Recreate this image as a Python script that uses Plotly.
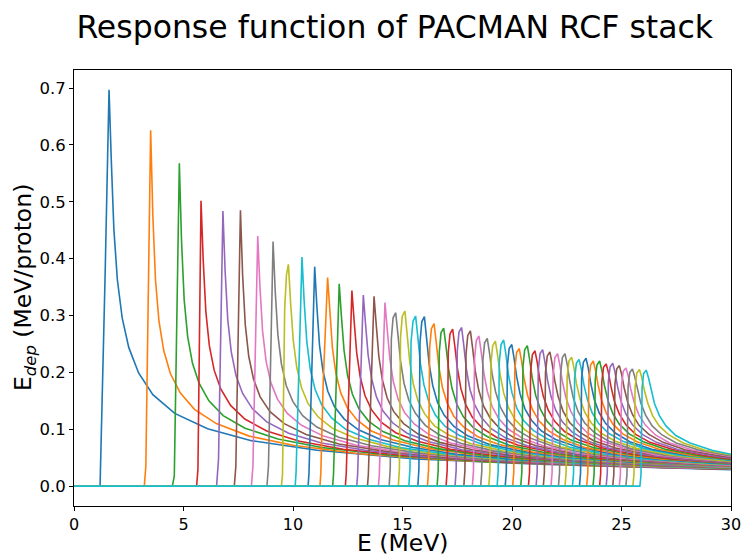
import plotly.graph_objects as go

# ---- data ----
# peak position (MeV) and height (keV per proton) of each RCF layer response
peak_E = [1.60, 3.50, 4.81, 5.80, 6.80, 7.60, 8.39, 9.09, 9.79, 10.41,
          10.99, 11.58, 12.11, 12.69, 13.21, 13.70, 14.20, 14.69, 15.11, 15.60,
          16.00, 16.44, 16.88, 17.29, 17.70, 18.10, 18.49, 18.87, 19.24, 19.62,
          19.99, 20.33, 20.70, 21.05, 21.40, 21.73, 22.08, 22.42, 22.72, 23.06,
          23.38, 23.71, 24.00, 24.30, 24.60, 24.90, 25.20, 25.50, 25.82, 26.13]
peak_keV = [697, 626, 568, 502, 484, 485, 440, 430, 390, 403,
            386, 367, 356, 344, 336, 334, 323, 305, 308, 299,
            298, 286, 278, 276, 279, 273, 264, 260, 255, 257,
            249, 242, 247, 238, 240, 236, 233, 233, 227, 223,
            225, 220, 220, 215, 216, 212, 208, 206, 205, 204]
# energy where each response leaves zero
onset_E = [1.19, 3.21, 4.49, 5.60, 6.51, 7.32, 8.10, 8.81, 9.47, 10.10,
           10.69, 11.23, 11.81, 12.39, 12.91, 13.40, 13.90, 14.39, 14.81, 15.29,
           15.70, 16.14, 16.58, 16.99, 17.40, 17.80, 18.19, 18.57, 18.94, 19.32,
           19.69, 20.03, 20.40, 20.75, 21.10, 21.43, 21.78, 22.12, 22.42, 22.76,
           23.08, 23.41, 23.70, 24.00, 24.30, 24.60, 24.90, 25.20, 25.52, 25.84]
# intermediate points on the rising edge (MeV, keV)
rise_E = [[1.42], [3.28], [4.58], [5.66], [6.60], [7.39], [8.17], [8.88],
          [9.52, 9.62, 9.70],
          [10.14, 10.25], [10.73, 10.84], [11.27, 11.38], [11.85, 11.96],
          [12.43, 12.54], [12.95, 13.06], [13.44, 13.55], [13.94, 14.05],
          [14.44, 14.49, 14.57], [14.86, 14.91, 14.99], [15.34, 15.39, 15.48],
          [15.75, 15.80, 15.88], [16.19, 16.24, 16.32], [16.63, 16.68, 16.76],
          [17.04, 17.09, 17.17], [17.45, 17.50, 17.58], [17.85, 17.90, 17.98],
          [18.24, 18.29, 18.37], [18.62, 18.67, 18.75], [18.99, 19.04, 19.12],
          [19.37, 19.42, 19.50], [19.74, 19.79, 19.87], [20.08, 20.13, 20.21],
          [20.45, 20.50, 20.58], [20.80, 20.85, 20.93], [21.15, 21.20, 21.28],
          [21.48, 21.53, 21.61], [21.83, 21.88, 21.96], [22.17, 22.22, 22.30],
          [22.47, 22.52, 22.60], [22.81, 22.86, 22.94], [23.13, 23.18, 23.26],
          [23.46, 23.51, 23.59], [23.75, 23.80, 23.88], [24.05, 24.10, 24.18],
          [24.35, 24.40, 24.48], [24.65, 24.70, 24.78], [24.95, 25.00, 25.08],
          [25.25, 25.30, 25.38], [25.57, 25.62, 25.70], [25.89, 25.94, 26.01]]
rise_keV = [[370], [35], [18], [30], [48], [35], [35], [35],
            [20, 312, 371],
            [24, 201], [23, 193], [22, 183], [21, 178],
            [21, 172], [20, 168], [20, 167], [19, 162],
            [31, 259, 296], [31, 262, 299], [30, 254, 290],
            [30, 253, 289], [29, 243, 277], [28, 236, 270],
            [28, 235, 268], [28, 237, 271], [27, 232, 265],
            [26, 224, 256], [26, 221, 252], [26, 217, 247],
            [26, 218, 249], [25, 212, 242], [24, 206, 235],
            [25, 210, 240], [24, 202, 231], [24, 204, 233],
            [24, 201, 229], [23, 198, 226], [23, 198, 226],
            [23, 193, 220], [22, 190, 216], [23, 191, 218],
            [22, 187, 213], [22, 187, 213], [22, 183, 209],
            [22, 184, 210], [21, 180, 206], [21, 177, 202],
            [21, 175, 200], [21, 174, 199], [20, 173, 198]]
# falling edge: distance above the peak (MeV) where the tail was read
tail_dE = [0.1, 0.22, 0.38, 0.6, 0.9, 1.35, 2, 3, 4.5, 6.5, 9.5, 14, 20, 28]
E_max = 30.0
# tail values (keV) at peak_E + tail_dE, last value at E_max
tail_keV = [
    [576, 452, 363, 296, 244, 199, 161, 128, 101, 80, 63, 48, 38, 30, 29],
    [476, 363, 290, 238, 198, 164, 135, 110, 88, 72, 57, 45, 36, 30],
    [431, 328, 263, 216, 181, 150, 124, 102, 83, 68, 55, 43, 35, 30],
    [397, 307, 247, 204, 171, 142, 118, 97, 79, 65, 53, 42, 34, 30],
    [379, 293, 236, 194, 163, 136, 113, 93, 76, 63, 51, 41, 33, 30],
    [371, 284, 228, 188, 157, 131, 110, 91, 74, 62, 50, 40, 33, 30],
    [351, 273, 220, 182, 153, 128, 107, 88, 72, 60, 49, 40, 32, 31],
    [342, 266, 215, 177, 149, 124, 104, 86, 71, 59, 48, 39, 32, 31],
    [323, 257, 209, 173, 145, 122, 102, 85, 70, 58, 48, 39, 31],
    [325, 254, 205, 170, 143, 120, 100, 83, 68, 57, 47, 38, 31],
    [316, 248, 202, 167, 140, 118, 99, 82, 68, 56, 46, 38, 32],
    [305, 243, 198, 164, 138, 116, 97, 81, 67, 56, 46, 37, 32],
    [299, 239, 195, 162, 136, 114, 96, 80, 66, 55, 45, 37, 32],
    [291, 234, 192, 159, 134, 112, 94, 79, 65, 54, 45, 37, 33],
    [286, 231, 189, 157, 132, 111, 93, 78, 64, 54, 44, 36, 33],
    [284, 228, 187, 155, 131, 110, 92, 77, 64, 53, 44, 36, 33],
    [277, 225, 184, 153, 129, 109, 91, 76, 63, 53, 44, 36, 33],
    [267, 220, 181, 151, 128, 107, 90, 75, 62, 52, 43, 35, 34],
    [268, 219, 180, 150, 127, 106, 90, 75, 62, 52, 43, 35, 34],
    [262, 215, 178, 149, 125, 105, 89, 74, 61, 51, 43, 35, 34],
    [260, 214, 177, 147, 125, 105, 88, 73, 61, 51, 42, 35],
    [253, 210, 174, 146, 123, 104, 87, 73, 60, 51, 42, 35],
    [248, 207, 172, 144, 122, 103, 87, 72, 60, 50, 42, 36],
    [246, 206, 171, 143, 121, 102, 86, 72, 60, 50, 42, 36],
    [247, 205, 170, 143, 121, 101, 85, 71, 59, 50, 41, 36],
    [243, 203, 169, 141, 120, 101, 85, 71, 59, 49, 41, 37],
    [237, 200, 167, 140, 119, 100, 84, 70, 58, 49, 41, 37],
    [235, 198, 166, 139, 118, 99, 84, 70, 58, 49, 41, 38],
    [231, 196, 164, 138, 117, 99, 83, 69, 58, 49, 40, 38],
    [232, 195, 164, 137, 116, 98, 83, 69, 57, 48, 40, 39],
    [226, 193, 162, 136, 116, 97, 82, 69, 57, 48, 40, 39],
    [222, 190, 160, 135, 115, 97, 82, 68, 57, 48, 40],
    [224, 191, 160, 135, 114, 96, 81, 68, 57, 48, 40],
    [218, 187, 158, 134, 114, 96, 81, 68, 56, 47, 41],
    [219, 187, 158, 133, 113, 95, 80, 67, 56, 47, 41],
    [216, 186, 157, 132, 112, 95, 80, 67, 56, 47, 42],
    [214, 184, 156, 132, 112, 94, 80, 67, 55, 47, 43],
    [214, 184, 155, 131, 111, 94, 79, 66, 55, 47, 43],
    [210, 181, 154, 130, 111, 93, 79, 66, 55, 46, 44],
    [207, 179, 153, 129, 110, 93, 79, 66, 55, 46, 45],
    [208, 180, 152, 129, 110, 93, 78, 65, 55, 46],
    [204, 178, 151, 128, 109, 92, 78, 65, 54, 47],
    [204, 177, 151, 128, 109, 92, 78, 65, 54, 47],
    [200, 175, 149, 127, 108, 91, 77, 65, 54, 48],
    [201, 175, 149, 127, 108, 91, 77, 64, 54, 49],
    [198, 173, 148, 126, 107, 91, 77, 64, 54, 51],
    [195, 171, 147, 125, 107, 90, 76, 64, 52],
    [193, 170, 146, 125, 106, 90, 76, 64, 53],
    [192, 169, 146, 124, 106, 90, 76, 63, 55],
    [191, 169, 145, 124, 106, 89, 76, 63, 56],
]
x_ticks = [0, 5, 10, 15, 20, 25, 30]
y_ticks = [0.0, 0.1, 0.2, 0.3, 0.4, 0.5, 0.6, 0.7]
y_ticktext = ["0.0", "0.1", "0.2", "0.3", "0.4", "0.5", "0.6", "0.7"]
title_text = "Response function of PACMAN RCF stack"
x_label = "E (MeV)"
y_label = "E<sub><i>dep</i></sub> (MeV/proton)"
colors = ["#1f77b4", "#ff7f0e", "#2ca02c", "#d62728", "#9467bd",
          "#8c564b", "#e377c2", "#7f7f7f", "#bcbd22", "#17becf"]

fig = go.Figure()
for i in range(len(peak_E)):
    Ep = peak_E[i]
    tail = tail_keV[i]
    xs = ([0.0, onset_E[i]] + rise_E[i] + [Ep]
          + [Ep + d for d in tail_dE[:len(tail) - 1]] + [E_max])
    ys_keV = [0, 0] + rise_keV[i] + [peak_keV[i]] + tail
    fig.add_trace(go.Scatter(
        x=xs, y=[v / 1000 for v in ys_keV], mode="lines",
        line=dict(color=colors[i % 10], width=1.6), hoverinfo="skip"))

fig.update_layout(
    width=742, height=554, margin=dict(l=74, r=11, t=70, b=48, autoexpand=False),
    plot_bgcolor="white", paper_bgcolor="white", showlegend=False,
    font=dict(family="DejaVu Sans", color="black"),
    title=dict(text=title_text, font=dict(size=31.5),
               xref="container", x=0.532, xanchor="center",
               yref="container", y=0.952, yanchor="middle"),
    annotations=[
        dict(text=x_label, xref="paper", yref="paper", x=0.5, y=0,
             xanchor="center", yanchor="middle", yshift=-37, showarrow=False,
             font=dict(size=23.5)),
        dict(text=y_label, xref="paper", yref="paper", x=0, y=0.5, textangle=-90,
             xanchor="center", yanchor="middle", xshift=-50, showarrow=False,
             font=dict(size=23.5)),
    ])
fig.update_xaxes(
    range=[0, 30], tickvals=x_ticks, showline=True, mirror=True, automargin=False,
    linecolor="black", linewidth=1, ticks="outside", ticklen=4, tickcolor="black",
    tickfont=dict(size=16), showgrid=False, zeroline=False)
fig.update_yaxes(
    range=[-0.0349, 0.7318], tickvals=y_ticks, ticktext=y_ticktext, automargin=False,
    showline=True, mirror=True, linecolor="black", linewidth=1,
    ticks="outside", ticklen=4, tickcolor="black", tickfont=dict(size=16.5),
    showgrid=False, zeroline=False)
fig.write_html("out.html", config={"displayModeBar": False},
               post_script="document.body.style.margin='0px';document.body.style.padding='0px';")
